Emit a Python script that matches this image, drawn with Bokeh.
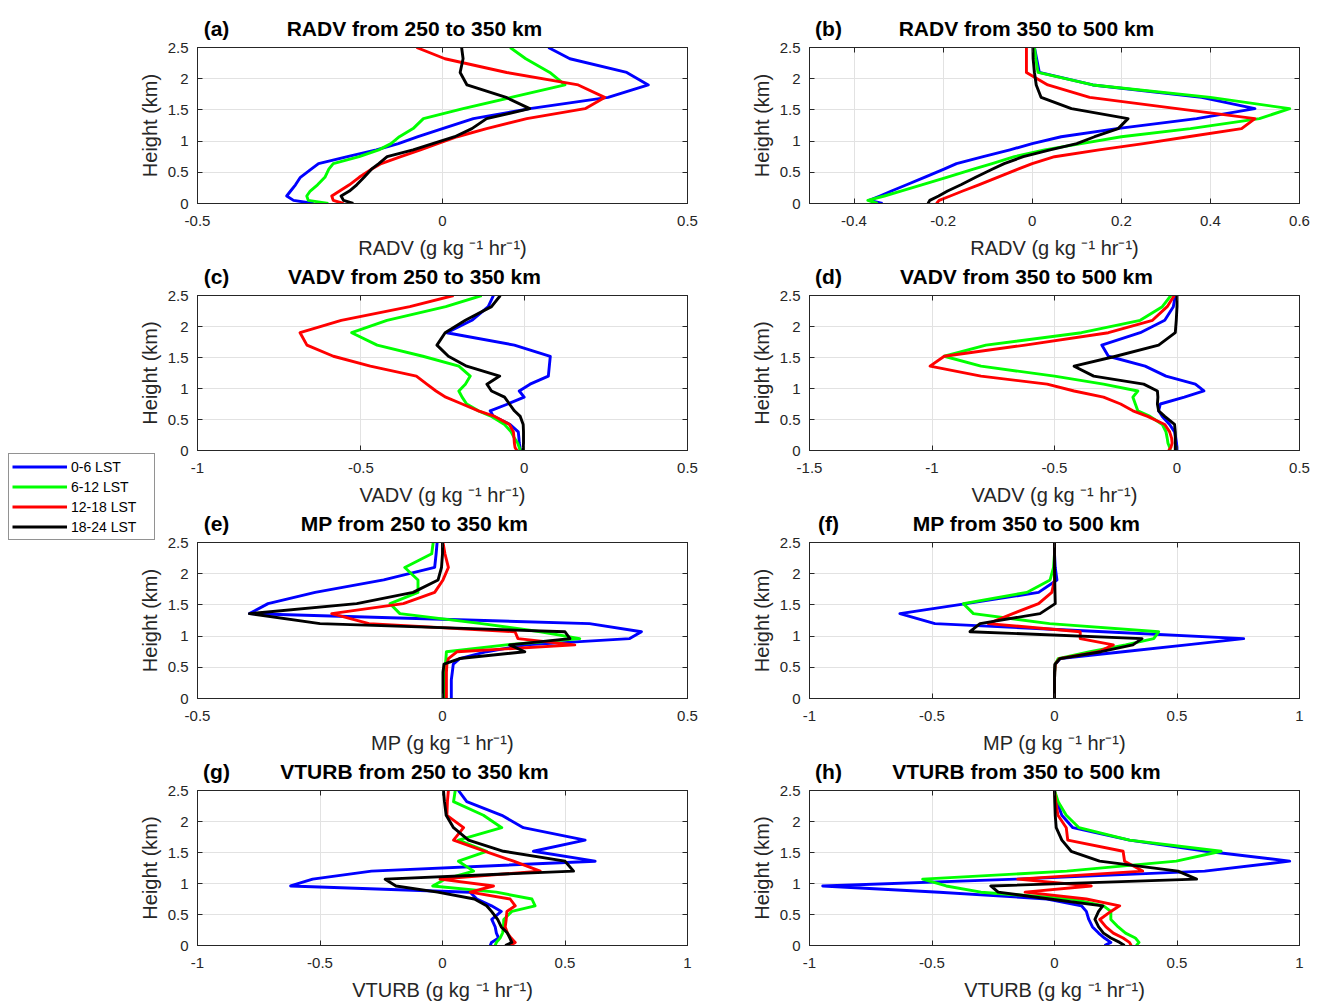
import math
from bokeh.plotting import figure
from bokeh.models import (Range1d, FixedTicker, LinearAxis, Label, Legend, LegendItem,
                          CustomJSTickFormatter, ColumnDataSource)
from bokeh.layouts import row, column
from bokeh.embed import file_html
from bokeh.resources import INLINE

# ---------------- data ----------------
HEIGHT_KM = [0.0, 0.05, 0.12, 0.2, 0.3, 0.42, 0.55, 0.64, 0.75, 0.86, 0.96, 1.07,
             1.2, 1.36, 1.52, 1.70, 1.90, 2.10, 2.32, 2.5]

SERIES_LABELS = ["0-6 LST", "6-12 LST", "12-18 LST", "18-24 LST"]
SERIES_COLORS = ["#0000FF", "#00FF00", "#FF0000", "#000000"]

# (a) RADV 250-350 km
RADV_250_350_LST0_6 = [-0.263, -0.304, -0.318, -0.31, -0.30, -0.29, -0.268, -0.253, -0.194, -0.135, -0.09, -0.05, 0.0, 0.063, 0.178, 0.338, 0.42, 0.376, 0.26, 0.216]
RADV_250_350_LST6_12 = [-0.233, -0.274, -0.277, -0.27, -0.255, -0.24, -0.232, -0.223, -0.17, -0.13, -0.105, -0.088, -0.06, -0.039, 0.042, 0.14, 0.25, 0.219, 0.17, 0.138]
RADV_250_350_LST12_18 = [-0.202, -0.223, -0.226, -0.21, -0.19, -0.17, -0.145, -0.125, -0.085, -0.045, -0.01, 0.03, 0.09, 0.172, 0.291, 0.331, 0.277, 0.131, 0.005, -0.053]
RADV_250_350_LST18_24 = [-0.182, -0.202, -0.207, -0.19, -0.175, -0.16, -0.145, -0.13, -0.113, -0.06, -0.02, 0.025, 0.06, 0.09, 0.178, 0.13, 0.05, 0.036, 0.042, 0.039]

# (b) RADV 350-500 km
RADV_350_500_LST0_6 = [-0.336, -0.366, -0.342, -0.316, -0.282, -0.242, -0.198, -0.17, -0.11, -0.05, 0.0, 0.065, 0.19, 0.369, 0.50, 0.38, 0.136, 0.016, 0.01, 0.005]
RADV_350_500_LST6_12 = [-0.347, -0.369, -0.332, -0.295, -0.248, -0.192, -0.132, -0.09, -0.04, 0.028, 0.11, 0.2, 0.355, 0.51, 0.578, 0.40, 0.136, 0.013, 0.008, 0.005]
RADV_350_500_LST12_18 = [-0.215, -0.209, -0.184, -0.156, -0.12, -0.078, -0.032, 0.0, 0.05, 0.15, 0.25, 0.35, 0.47, 0.50, 0.325, 0.129, 0.035, -0.013, -0.013, -0.013]
RADV_350_500_LST18_24 = [-0.234, -0.23, -0.21, -0.19, -0.16, -0.127, -0.09, -0.063, -0.02, 0.04, 0.10, 0.14, 0.193, 0.215, 0.088, 0.02, 0.009, 0.005, 0.002, 0.0015]

# (c) VADV 250-350 km
VADV_250_350_LST0_6 = [-0.012, -0.013, -0.015, -0.016, -0.018, -0.043, -0.094, -0.104, -0.05, 0.0, -0.015, 0.018, 0.074, 0.077, 0.08, -0.03, -0.237, -0.16, -0.11, -0.094]
VADV_250_350_LST6_12 = [-0.012, -0.015, -0.02, -0.03, -0.04, -0.06, -0.10, -0.14, -0.176, -0.19, -0.2, -0.18, -0.165, -0.20, -0.31, -0.45, -0.528, -0.42, -0.24, -0.13]
VADV_250_350_LST12_18 = [-0.022, -0.028, -0.03, -0.031, -0.033, -0.045, -0.09, -0.14, -0.19, -0.24, -0.27, -0.298, -0.33, -0.471, -0.584, -0.665, -0.686, -0.56, -0.35, -0.216]
VADV_250_350_LST18_24 = [-0.004, -0.003, -0.002, -0.002, -0.002, -0.003, -0.012, -0.03, -0.045, -0.06, -0.1, -0.114, -0.075, -0.176, -0.232, -0.267, -0.242, -0.18, -0.1, -0.073]

# (d) VADV 350-500 km
VADV_350_500_LST0_6 = [0.0, 0.0, -0.002, -0.005, -0.01, -0.03, -0.06, -0.075, -0.068, 0.03, 0.11, 0.075, -0.045, -0.13, -0.28, -0.307, -0.15, -0.05, -0.015, -0.007]
VADV_350_500_LST6_12 = [-0.027, -0.03, -0.037, -0.04, -0.045, -0.06, -0.11, -0.16, -0.17, -0.18, -0.16, -0.30, -0.50, -0.80, -0.95, -0.78, -0.39, -0.15, -0.06, -0.025]
VADV_350_500_LST12_18 = [-0.034, -0.025, -0.02, -0.022, -0.03, -0.05, -0.12, -0.18, -0.23, -0.30, -0.42, -0.53, -0.80, -1.008, -0.95, -0.62, -0.28, -0.10, -0.04, -0.011]
VADV_350_500_LST18_24 = [-0.007, -0.007, -0.007, -0.007, -0.007, -0.01, -0.05, -0.075, -0.08, -0.078, -0.08, -0.136, -0.34, -0.42, -0.25, -0.075, -0.007, -0.003, 0.0, 0.0]

# (e) MP 250-350 km
MP_250_350_LST0_6 = [0.018, 0.018, 0.018, 0.018, 0.018, 0.02, 0.022, 0.035, 0.09, 0.17, 0.382, 0.406, 0.30, -0.394, -0.356, -0.26, -0.12, -0.016, -0.013, -0.011]
MP_250_350_LST6_12 = [0.005, 0.005, 0.005, 0.005, 0.005, 0.005, 0.006, 0.007, 0.008, 0.13, 0.28, 0.2, 0.08, -0.087, -0.107, -0.05, -0.05, -0.077, -0.022, -0.019]
MP_250_350_LST12_18 = [0.008, 0.008, 0.008, 0.008, 0.008, 0.008, 0.009, 0.012, 0.03, 0.27, 0.154, 0.148, -0.15, -0.226, -0.08, -0.016, 0.001, 0.012, 0.005, 0.001]
MP_250_350_LST18_24 = [0.001, 0.001, 0.001, 0.001, 0.001, 0.001, 0.003, 0.035, 0.168, 0.137, 0.26, 0.25, -0.25, -0.394, -0.175, -0.06, -0.009, -0.002, 0.0, 0.0]

# (f) MP 350-500 km
MP_350_500_LST0_6 = [0.0, 0.0, 0.0, 0.0, 0.0, 0.001, 0.003, 0.023, 0.28, 0.54, 0.772, 0.2, -0.488, -0.631, -0.36, -0.065, 0.01, 0.003, 0.0, 0.0]
MP_350_500_LST6_12 = [0.0, 0.0, 0.0, 0.0, 0.0, 0.001, 0.003, 0.015, 0.145, 0.29, 0.405, 0.425, -0.02, -0.331, -0.372, -0.113, -0.018, -0.004, 0.0, 0.0]
MP_350_500_LST12_18 = [0.0, 0.0, 0.0, 0.0, 0.0, 0.001, 0.003, 0.02, 0.18, 0.24, 0.105, 0.105, -0.27, -0.17, -0.065, -0.011, 0.0, 0.0, 0.0, 0.0]
MP_350_500_LST18_24 = [0.0, 0.0, 0.0, 0.0, 0.0, 0.0, 0.002, 0.023, 0.19, 0.32, 0.357, -0.345, -0.304, -0.059, 0.003, 0.002, 0.001, 0.0, 0.0, 0.0]

# (g) VTURB 250-350 km
VTURB_250_350_LST0_6 = [0.195, 0.2, 0.229, 0.22, 0.215, 0.201, 0.24, 0.2, 0.14, 0.113, -0.62, -0.53, -0.29, 0.623, 0.371, 0.582, 0.33, 0.242, 0.099, 0.065]
VTURB_250_350_LST6_12 = [0.215, 0.22, 0.235, 0.245, 0.249, 0.25, 0.283, 0.378, 0.365, 0.22, -0.04, 0.01, 0.127, 0.065, 0.18, 0.065, 0.242, 0.167, 0.045, 0.052]
VTURB_250_350_LST12_18 = [0.276, 0.297, 0.28, 0.265, 0.256, 0.26, 0.263, 0.297, 0.276, 0.113, 0.208, -0.01, 0.399, 0.29, 0.174, 0.045, 0.086, 0.018, 0.02, 0.024]
VTURB_250_350_LST18_24 = [0.256, 0.283, 0.275, 0.265, 0.24, 0.225, 0.2, 0.18, 0.13, -0.02, -0.19, -0.234, 0.535, 0.50, 0.249, 0.106, 0.045, 0.015, 0.008, 0.004]

# (h) VTURB 350-500 km
VTURB_350_500_LST0_6 = [0.204, 0.23, 0.204, 0.18, 0.155, 0.14, 0.13, 0.11, -0.03, -0.47, -0.946, -0.157, 0.613, 0.96, 0.62, 0.306, 0.075, 0.03, 0.01, 0.0]
VTURB_350_500_LST6_12 = [0.334, 0.345, 0.33, 0.29, 0.26, 0.23, 0.23, 0.2, 0.07, -0.30, -0.442, -0.538, 0.05, 0.497, 0.68, 0.306, 0.10, 0.048, 0.015, 0.0]
VTURB_350_500_LST12_18 = [0.313, 0.306, 0.28, 0.24, 0.21, 0.185, 0.23, 0.266, 0.13, -0.12, 0.15, -0.15, 0.36, 0.286, 0.28, 0.054, 0.048, 0.014, 0.005, 0.0]
VTURB_350_500_LST18_24 = [0.286, 0.266, 0.23, 0.2, 0.18, 0.165, 0.18, 0.197, -0.02, -0.23, -0.26, 0.58, 0.504, 0.184, 0.068, 0.03, 0.007, 0.003, 0.001, 0.0]

Y_TICKS = [0, 0.5, 1, 1.5, 2, 2.5]
X_TICKS_A = [-0.5, 0, 0.5]
X_TICKS_B = [-0.4, -0.2, 0, 0.2, 0.4, 0.6]
X_TICKS_C = [-1, -0.5, 0, 0.5]
X_TICKS_D = [-1.5, -1, -0.5, 0, 0.5]
X_TICKS_E = [-0.5, 0, 0.5]
X_TICKS_F = [-1, -0.5, 0, 0.5, 1]
X_TICKS_G = [-1, -0.5, 0, 0.5, 1]
X_TICKS_H = [-1, -0.5, 0, 0.5, 1]

PANELS = [
    ("a", "RADV", "250 to 350", (-0.5, 0.5), X_TICKS_A,
     [RADV_250_350_LST0_6, RADV_250_350_LST6_12, RADV_250_350_LST12_18, RADV_250_350_LST18_24]),
    ("b", "RADV", "350 to 500", (-0.5, 0.6), X_TICKS_B,
     [RADV_350_500_LST0_6, RADV_350_500_LST6_12, RADV_350_500_LST12_18, RADV_350_500_LST18_24]),
    ("c", "VADV", "250 to 350", (-1.0, 0.5), X_TICKS_C,
     [VADV_250_350_LST0_6, VADV_250_350_LST6_12, VADV_250_350_LST12_18, VADV_250_350_LST18_24]),
    ("d", "VADV", "350 to 500", (-1.5, 0.5), X_TICKS_D,
     [VADV_350_500_LST0_6, VADV_350_500_LST6_12, VADV_350_500_LST12_18, VADV_350_500_LST18_24]),
    ("e", "MP", "250 to 350", (-0.5, 0.5), X_TICKS_E,
     [MP_250_350_LST0_6, MP_250_350_LST6_12, MP_250_350_LST12_18, MP_250_350_LST18_24]),
    ("f", "MP", "350 to 500", (-1.0, 1.0), X_TICKS_F,
     [MP_350_500_LST0_6, MP_350_500_LST6_12, MP_350_500_LST12_18, MP_350_500_LST18_24]),
    ("g", "VTURB", "250 to 350", (-1.0, 1.0), X_TICKS_G,
     [VTURB_250_350_LST0_6, VTURB_250_350_LST6_12, VTURB_250_350_LST12_18, VTURB_250_350_LST18_24]),
    ("h", "VTURB", "350 to 500", (-1.0, 1.0), X_TICKS_H,
     [VTURB_350_500_LST0_6, VTURB_350_500_LST6_12, VTURB_350_500_LST12_18, VTURB_350_500_LST18_24]),
]

# ---------------- layout constants ----------------
FONT = "Liberation Sans"
AXC = "#262626"
TOTAL_H = 1006
STRIP_W = 162
FRAME_W = 490
ROW_TOP = [47, 34, 34, 34]
ROW_FH = [156, 155, 156, 155]
ROW_BOT = [58, 58, 58, 61]
COL_BL = [35, 62]
COL_BR = [60, 21]
LETTER_POS = 19.0   # px from frame left (centre of "(a)")
TITLE_POS = 217.0   # px from frame left (centre of title)

empty_fmt = CustomJSTickFormatter(code="return ''")
plain_fmt = CustomJSTickFormatter(code="return tick.toString()")


def style_axis(ax, standoff=9):
    ax.axis_line_color = AXC
    ax.axis_line_width = 1
    ax.major_tick_line_color = AXC
    ax.major_tick_in = 5
    ax.major_tick_out = 0
    ax.minor_tick_line_color = None
    ax.major_label_text_font = FONT
    ax.major_label_text_font_size = "15px"
    ax.major_label_text_color = AXC
    ax.major_label_standoff = standoff


def make_panel(idx, letter, var, rng, xlim, xticks, series):
    col = idx % 2
    r = idx // 2
    fh = ROW_FH[r]
    p = figure(frame_width=FRAME_W, frame_height=fh,
               min_border_left=COL_BL[col], min_border_right=COL_BR[col],
               min_border_top=ROW_TOP[r], min_border_bottom=ROW_BOT[r],
               x_range=Range1d(*xlim), y_range=Range1d(0, 2.5),
               output_backend="svg", toolbar_location=None,
               background_fill_color="white", border_fill_color="white")
    p.outline_line_color = AXC
    p.outline_line_width = 1

    p.xaxis.ticker = FixedTicker(ticks=xticks)
    p.yaxis.ticker = FixedTicker(ticks=Y_TICKS)
    p.xaxis.formatter = plain_fmt
    p.yaxis.formatter = plain_fmt
    for ax in p.xaxis:
        style_axis(ax, standoff=12)
    for ax in p.yaxis:
        style_axis(ax, standoff=9)
    p.xgrid.ticker = FixedTicker(ticks=xticks)
    p.ygrid.ticker = FixedTicker(ticks=Y_TICKS)
    p.grid.grid_line_color = "#e2e2e2"
    p.grid.grid_line_width = 1

    # x label (bottom axis)
    p.xaxis.axis_label = f"{var} (g kg \u207b\u00b9 hr\u207b\u00b9)"
    p.xaxis.axis_label_text_font = FONT
    p.xaxis.axis_label_text_font_size = "20px"
    p.xaxis.axis_label_text_font_style = "normal"
    p.xaxis.axis_label_text_color = AXC
    p.xaxis.axis_label_standoff = 8

    if col == 1:
        p.yaxis.axis_label = "Height (km)"
        p.yaxis.axis_label_text_font = FONT
        p.yaxis.axis_label_text_font_size = "20px"
        p.yaxis.axis_label_text_font_style = "normal"
        p.yaxis.axis_label_text_color = AXC
        p.yaxis.axis_label_standoff = 4

    # top axis: carries the panel letter and title as labels, box ticks as minor ticks
    span = xlim[1] - xlim[0]
    pos_letter = xlim[0] + span * LETTER_POS / FRAME_W
    pos_title = xlim[0] + span * TITLE_POS / FRAME_W
    title_fmt = CustomJSTickFormatter(
        args=dict(labels=[f"({letter})", f"{var} from {rng} km"]),
        code="return labels[index]")
    top = LinearAxis(ticker=FixedTicker(ticks=[pos_letter, pos_title], minor_ticks=xticks),
                     formatter=title_fmt)
    top.axis_line_color = AXC
    top.major_tick_line_color = None
    top.major_tick_in = 0
    top.major_tick_out = 0
    top.minor_tick_line_color = AXC
    top.minor_tick_in = 5
    top.minor_tick_out = 0
    top.major_label_text_font = FONT
    top.major_label_text_font_style = "bold"
    top.major_label_text_font_size = "21px"
    top.major_label_text_color = "black"
    top.major_label_standoff = 8
    p.add_layout(top, "above")

    right = LinearAxis(ticker=FixedTicker(ticks=Y_TICKS), formatter=empty_fmt)
    style_axis(right, standoff=0)
    p.add_layout(right, "right")

    for vals, color in zip(series, SERIES_COLORS):
        src = ColumnDataSource(dict(value=vals, height=HEIGHT_KM))
        p.line("value", "height", source=src, line_color=color, line_width=2.9,
               line_join="round")
    return p


figs = [make_panel(i, *pnl) for i, pnl in enumerate(PANELS)]

# ---------------- left strip: legend + left y labels ----------------
strip = figure(frame_width=STRIP_W, frame_height=TOTAL_H,
               x_range=Range1d(0, STRIP_W), y_range=Range1d(0, TOTAL_H),
               x_axis_type=None, y_axis_type=None,
               min_border_left=0, min_border_right=0, min_border_top=0, min_border_bottom=0,
               output_backend="svg", toolbar_location=None,
               background_fill_color="white", border_fill_color="white")
strip.outline_line_color = None
strip.grid.visible = False

y_cursor = 0
for r in range(4):
    ftop = y_cursor + ROW_TOP[r]
    center = ftop + ROW_FH[r] / 2
    strip.add_layout(Label(x=STRIP_W + COL_BL[0] - 48, y=TOTAL_H - center,
                           text="Height (km)", angle=math.pi / 2, text_font=FONT,
                           text_font_size="20px", text_color=AXC,
                           text_align="center", text_baseline="middle"))
    y_cursor += ROW_TOP[r] + ROW_FH[r] + ROW_BOT[r]

# legend entries (proxy renderers kept outside the strip's visible range)
items = []
for lab, color in zip(SERIES_LABELS, SERIES_COLORS):
    rr = strip.line(x=[-50, -40], y=[-50, -50], line_color=color, line_width=3)
    items.append(LegendItem(label=lab, renderers=[rr]))
legend = Legend(items=items, location=(8, TOTAL_H - 540), margin=0, padding=3,
                spacing=1, glyph_width=55, glyph_height=19, label_height=19,
                label_width=80, label_standoff=4,
                label_text_font=FONT, label_text_font_size="14px", label_text_color="black",
                border_line_color=AXC, border_line_width=1,
                background_fill_color="white", background_fill_alpha=1.0)
strip.add_layout(legend, "center")

left_col = column(figs[0], figs[2], figs[4], figs[6], spacing=0)
right_col = column(figs[1], figs[3], figs[5], figs[7], spacing=0)
layout = row(strip, left_col, right_col, spacing=0)

open("out.html", "w").write(file_html(layout, INLINE))
